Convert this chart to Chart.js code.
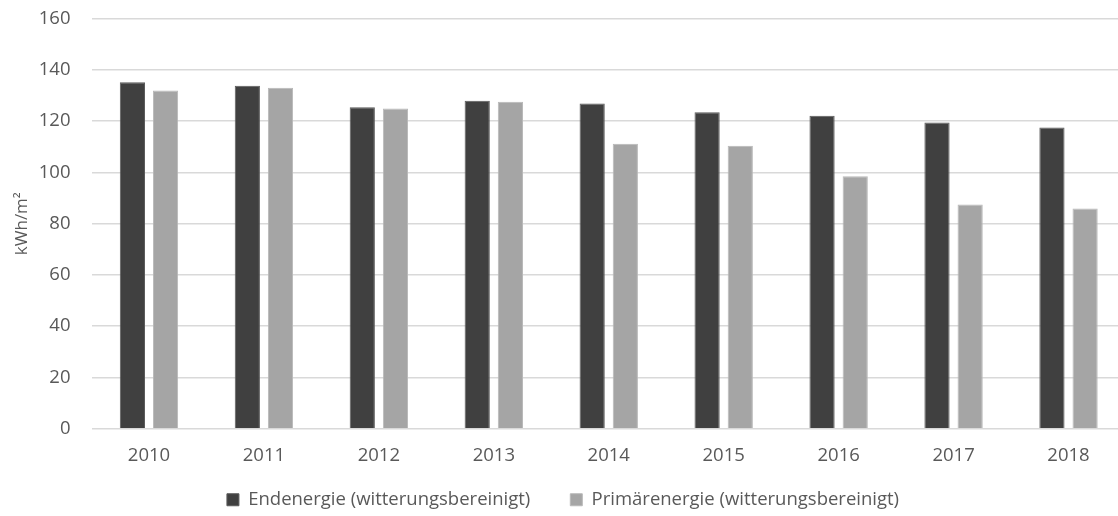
<!DOCTYPE html>
<html lang="de">
<head>
<meta charset="utf-8">
<title>Energieverbrauch pro m²</title>
<script src="https://cdn.jsdelivr.net/npm/chart.js@4/dist/chart.umd.min.js"></script>
<style>
  html, body { margin: 0; padding: 0; background: #fff; overflow: hidden; }
  .c-chart { position: relative; width: 1136px; height: 516px; }
</style>
</head>
<body>
<div class="c-chart">
  <canvas id="energyChart"></canvas>
</div>
<script>
'use strict';
const years = ['2010', '2011', '2012', '2013', '2014', '2015', '2016', '2017', '2018'];
const endenergie = [135.2, 133.8, 125.4, 128.0, 126.9, 123.5, 122.1, 119.5, 117.5];
const primaerenergie = [132.0, 133.1, 125.0, 127.6, 111.2, 110.4, 98.5, 87.5, 85.9];
const yTicks = [0, 20, 40, 60, 80, 100, 120, 140, 160];

const textColor = '#595959';
const fontFamily = "'Open Sans', 'Noto Sans', sans-serif";

// the x axis box is kept short so the legend fits below; let its labels draw past it
const unclipXLabels = {
    id: 'unclipXLabels',
    afterLayout: function (chart) {
        chart.scales.x.bottom = chart.height;
    }
};

const loadChart = function () {
    const ctx = document.getElementById('energyChart').getContext('2d');
    new Chart(ctx, {
        type: 'bar',
        data: {
            labels: years,
            datasets: [{
                label: 'Endenergie (witterungsbereinigt)',
                data: endenergie,
                backgroundColor: '#404040',
                borderColor: '#5a5a5a',
                borderWidth: 1,
                categoryPercentage: 0.577,
                barPercentage: 0.76
            }, {
                label: 'Primärenergie (witterungsbereinigt)',
                data: primaerenergie,
                backgroundColor: '#a5a5a5',
                borderColor: '#b8b8b8',
                borderWidth: 1,
                categoryPercentage: 0.577,
                barPercentage: 0.76
            }]
        },
        plugins: [unclipXLabels],
        options: {
            responsive: true,
            maintainAspectRatio: false,
            animation: false,
            layout: { padding: { top: 18.7, right: 10, bottom: -3, left: 0 } },
            plugins: {
                tooltip: { enabled: false },
                legend: {
                    position: 'bottom',
                    labels: {
                        color: textColor,
                        font: { family: fontFamily, size: 18.5 },
                        boxWidth: 12,
                        boxHeight: 12,
                        padding: 40
                    }
                }
            },
            scales: {
                x: {
                    grid: { display: false },
                    border: { display: false },
                    ticks: {
                        color: textColor,
                        font: { family: fontFamily, size: 18.5 },
                        padding: 8
                    },
                    afterFit: function (scale) { scale.height = 21.8; }
                },
                y: {
                    min: 0,
                    max: 160,
                    afterBuildTicks: function (scale) {
                        scale.ticks = yTicks.map(v => ({ value: v }));
                    },
                    grid: { color: '#d9d9d9', lineWidth: 1.5, drawTicks: false },
                    border: { display: false },
                    ticks: {
                        color: textColor,
                        font: { family: fontFamily, size: 18.5 },
                        padding: 21
                    },
                    title: {
                        display: true,
                        text: 'kWh/m²',
                        color: textColor,
                        font: { family: fontFamily, size: 17 },
                        padding: { top: 12, bottom: 0 }
                    },
                    afterFit: function (scale) {
                        scale.width = 91.5;
                        scale.paddingTop = 0;
                        scale.paddingBottom = 0;
                    }
                }
            }
        }
    });
};

document.addEventListener('DOMContentLoaded', function () {
    loadChart();
});
</script>
</body>
</html>
